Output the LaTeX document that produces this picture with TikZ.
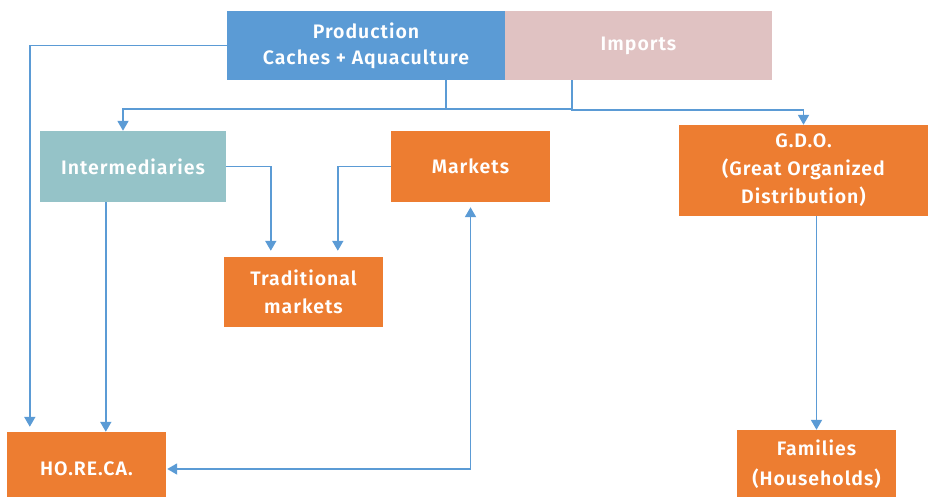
\documentclass[tikz,border=0pt]{standalone}
\usepackage{fontspec}
\setmainfont{Fira Sans}[BoldFont={Fira Sans SemiBold},LetterSpace=5]
\usetikzlibrary{arrows.meta,calc}
\definecolor{lineblue}{HTML}{5B9BD5}
\definecolor{prodblue}{HTML}{5B9BD5}
\definecolor{imppink}{HTML}{E0C2C2}
\definecolor{teal}{HTML}{95C3C8}
\definecolor{orng}{HTML}{ED7D31}
\begin{document}
\begin{tikzpicture}[x=1pt,y=-1pt,
  box/.style={rectangle,inner sep=0pt,text=white,align=center,font=\fontsize{19.5}{28}\selectfont\bfseries},
  conn/.style={draw=lineblue,line width=1.8pt},
  arr/.style={conn,-{Triangle[width=11pt,length=10pt]}},
  darr/.style={conn,{Triangle[width=11pt,length=10pt]}-{Triangle[width=11pt,length=10pt]}}]
\useasboundingbox (0,0) rectangle (928,496);
\node[box,fill=prodblue,minimum width=278pt,minimum height=69pt] (prod) at (366,45.5) {Production\\[-2pt]Caches + Aquaculture};
\node[box,fill=imppink,minimum width=267pt,minimum height=69pt] (imp) at (638.5,45.5) {Imports};
\node[box,fill=teal,minimum width=186pt,minimum height=71pt] (inter) at (133,166.5) {Intermediaries};
\node[box,fill=orng,minimum width=159pt,minimum height=71pt] (mkt) at (470.5,166.5) {Markets};
\node[box,fill=orng,minimum width=249pt,minimum height=91pt] (gdo) at (803.5,170.5) {G.D.O.\\(Great Organized\\Distribution)};
\node[box,fill=orng,minimum width=159pt,minimum height=70pt] (trad) at (303.5,292) {Traditional\\markets};
\node[box,fill=orng,minimum width=159pt,minimum height=74pt] (horeca) at (86.5,469) {HO.RE.CA.};
\node[box,fill=orng,minimum width=159pt,minimum height=69pt] (fam) at (816.5,464.5) {Families\\[2pt](Households)};
\coordinate (j1) at (446,109);
\coordinate (j2) at (572,110);
% connectors
\draw[arr,shorten >=5pt] (prod.west) -| ($(horeca.north west)+(23,0)$);
\draw[arr] (prod.south -| j1) -- (j1) -| ($(inter.north)+(-10,0)$);
\draw[conn] (j1) -- (j1 -| j2);
\draw[arr] (imp.south -| j2) -- (j2) -| (gdo.north);
\draw[arr,shorten >=6pt] (inter.east) -| ($(trad.north west)+(47,0)$);
\draw[arr,shorten >=6pt] (mkt.west) -| ($(trad.north west)+(114,0)$);
\draw[arr] ($(inter.south west)+(66,0)$) -- ($(horeca.north west)+(99,0)$);
\draw[darr,shorten >=5pt,shorten <=1pt] (horeca.east) -| (mkt.south);
\draw[arr] (gdo.south -| fam.north) -- (fam.north);
\end{tikzpicture}
\end{document}
